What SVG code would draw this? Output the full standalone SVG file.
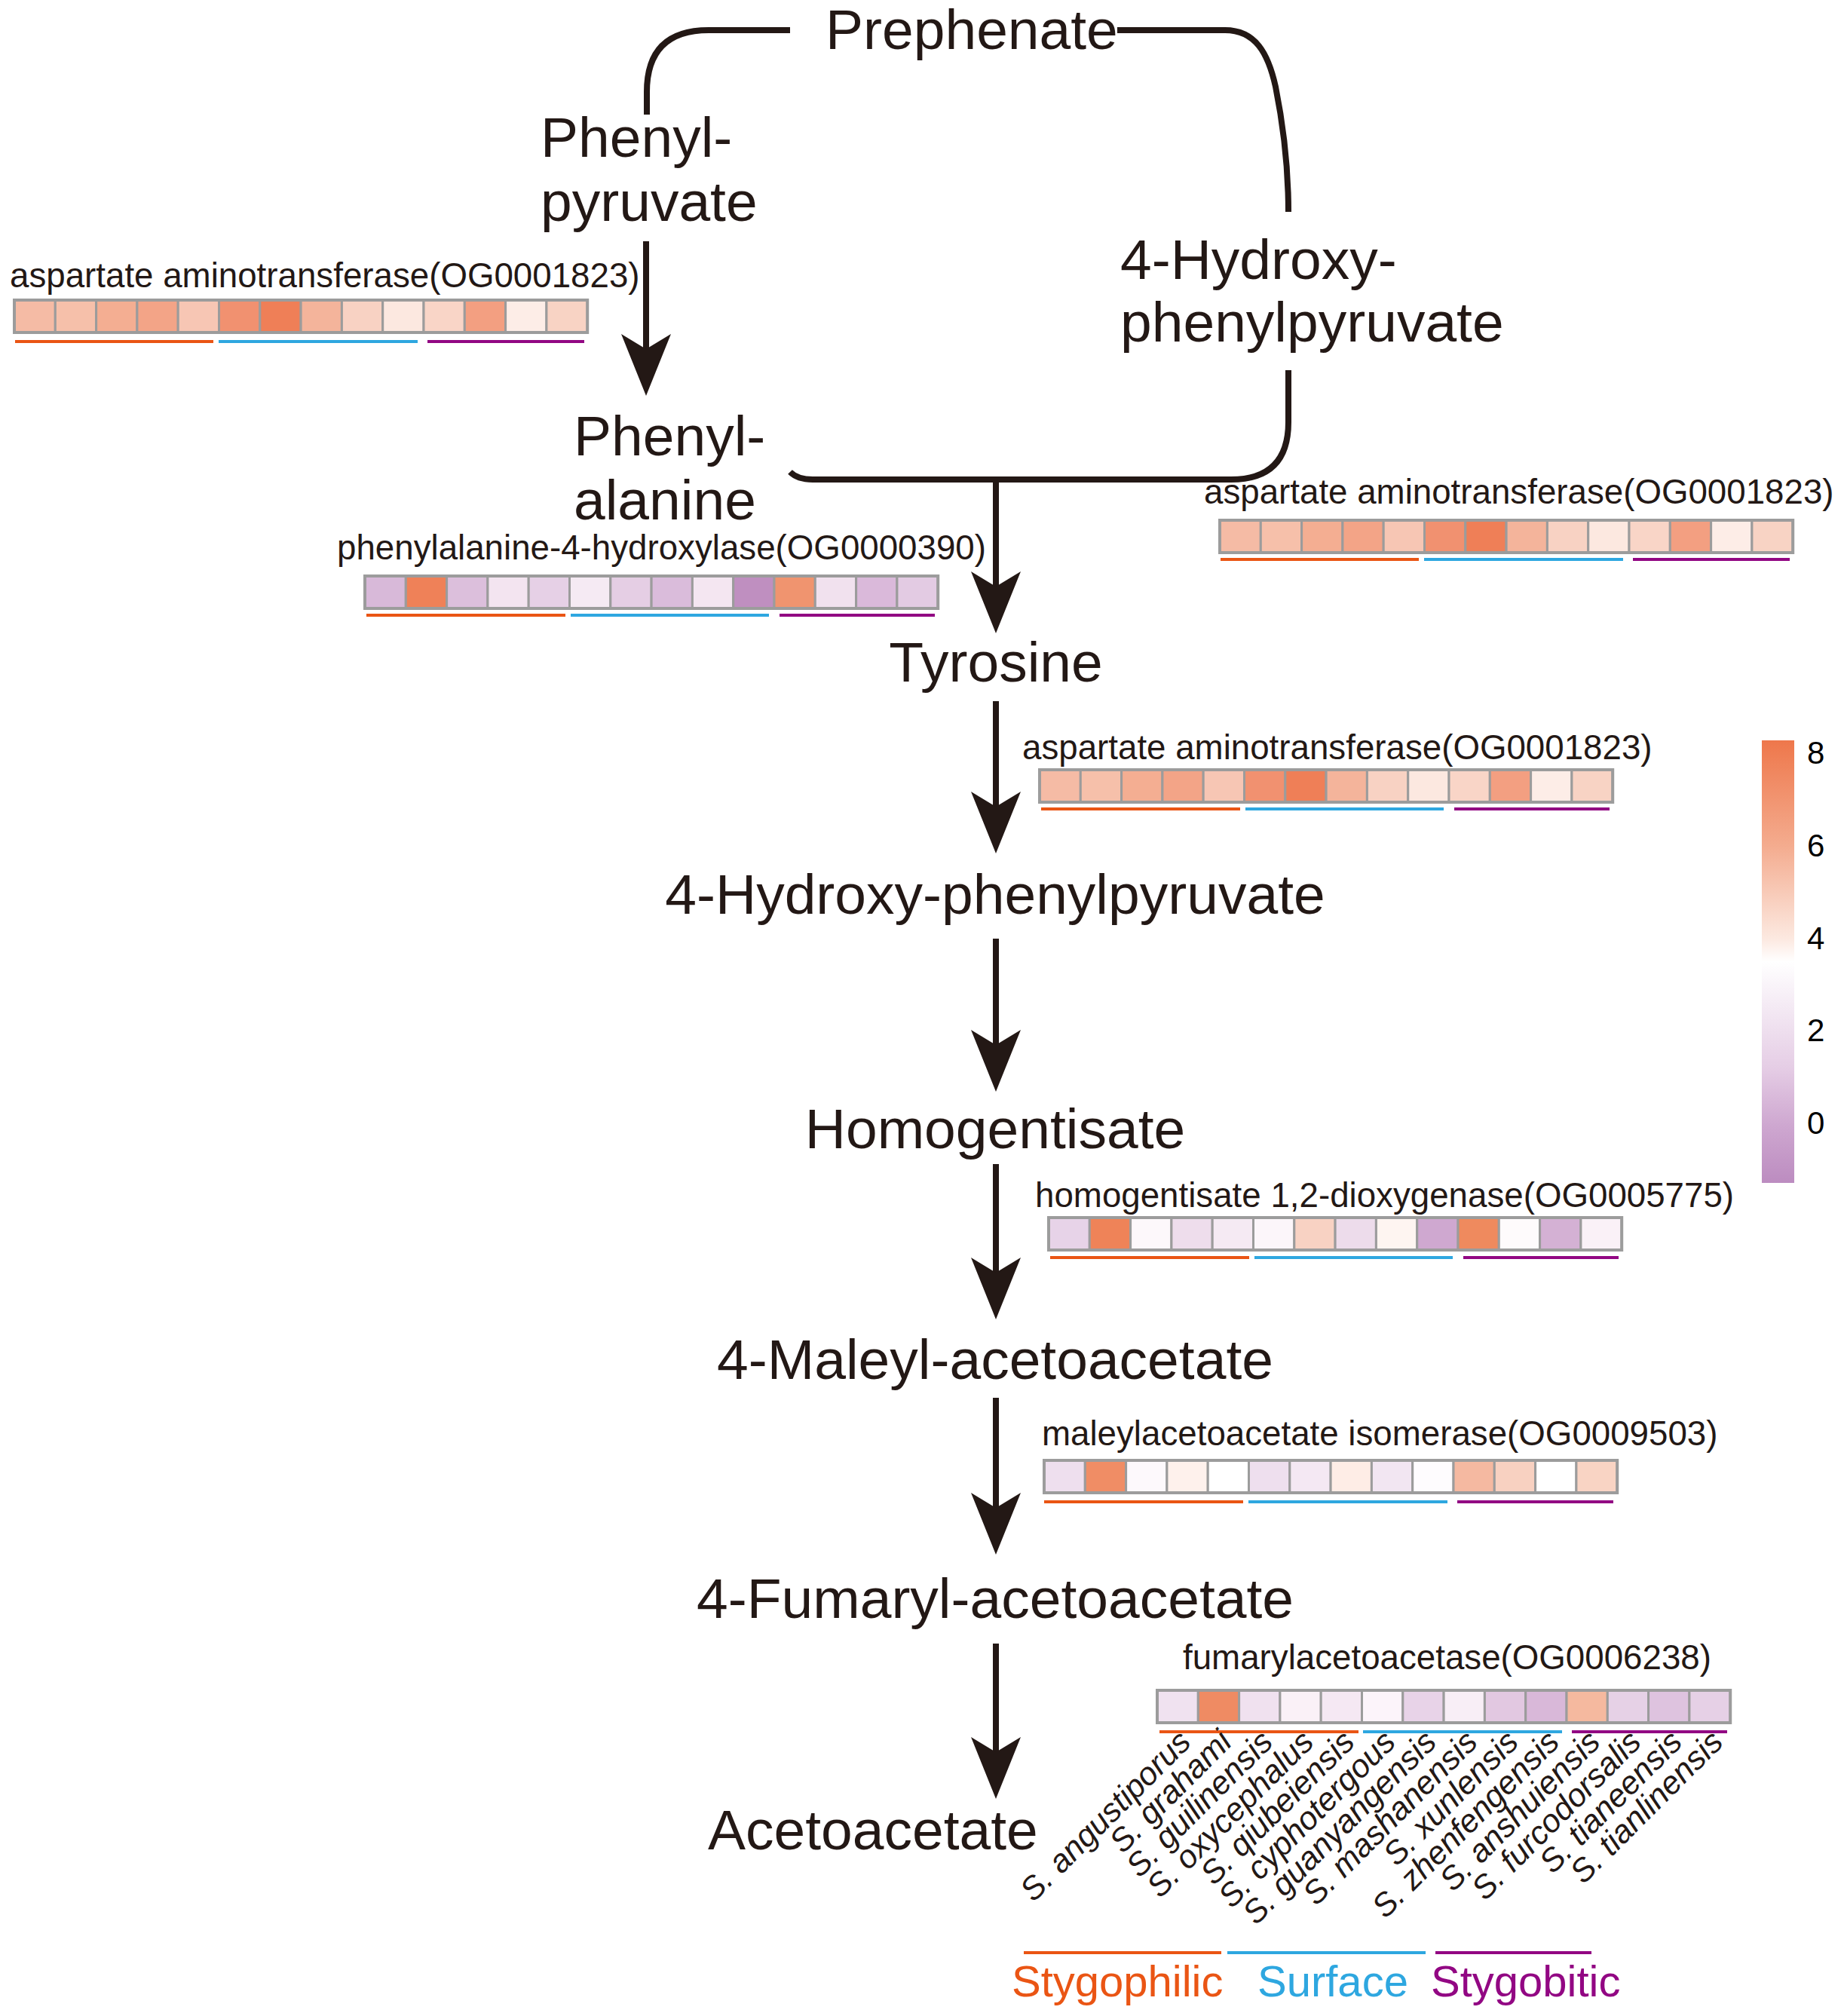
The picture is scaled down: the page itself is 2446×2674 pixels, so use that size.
<svg xmlns="http://www.w3.org/2000/svg" width="2446" height="2674" viewBox="0 0 2446 2674">
<style>
.t{font-family:"Liberation Sans",Arial,Helvetica,sans-serif;fill:#231815}
.big{font-size:75px}
.sm{font-size:45.7px}
.sp{font-size:43px;font-style:italic;text-anchor:end}
.mid{text-anchor:middle}
.cell{stroke:#9c9c9c;stroke-width:3}
.frame{fill:none;stroke:#9c9c9c;stroke-width:4}
.ln{fill:none;stroke:#231815;stroke-width:8}
.uo{stroke:#EA5514;stroke-width:4}
.ub{stroke:#2EA7E0;stroke-width:4}
.up{stroke:#920783;stroke-width:4}
.cb{font-family:"Liberation Sans",Arial,sans-serif;font-size:42px;fill:#000}
</style>
<defs>
<marker id="ah" markerUnits="userSpaceOnUse" viewBox="0 -34 83 68" markerWidth="83" markerHeight="68" refX="20" refY="0" orient="auto">
<path d="M0,-33 L82,0 L0,33 L20,0 Z" fill="#231815"/>
</marker>
<linearGradient id="cbg" x1="0" y1="0" x2="0" y2="1">
<stop offset="0" stop-color="#EE774B"/>
<stop offset="0.24" stop-color="#F4AC8F"/>
<stop offset="0.45" stop-color="#FCE9E1"/>
<stop offset="0.5" stop-color="#FFFFFF"/>
<stop offset="0.62" stop-color="#F2E6F2"/>
<stop offset="0.74" stop-color="#E5CDE5"/>
<stop offset="0.87" stop-color="#CEA7D0"/>
<stop offset="1" stop-color="#BC8CC0"/>
</linearGradient>
</defs>

<!-- connectors -->
<g id="connectors">
<path class="ln" d="M1048,40 H940 Q858,40 858,122 V152"/>
<path class="ln" d="M1482,40 H1625 C1665,40 1682,70 1692,115 C1704,175 1709,230 1709,281"/>
<path class="ln" d="M1709,491 V560 Q1709,636 1633,636 H1078 Q1058,636 1048,626"/>
<line class="ln" x1="857" y1="320" x2="857" y2="463" marker-end="url(#ah)"/>
<line class="ln" x1="1321" y1="636" x2="1321" y2="778" marker-end="url(#ah)"/>
<line class="ln" x1="1321" y1="930" x2="1321" y2="1070" marker-end="url(#ah)"/>
<line class="ln" x1="1321" y1="1245" x2="1321" y2="1386" marker-end="url(#ah)"/>
<line class="ln" x1="1321" y1="1544" x2="1321" y2="1688" marker-end="url(#ah)"/>
<line class="ln" x1="1321" y1="1854" x2="1321" y2="2000" marker-end="url(#ah)"/>
<line class="ln" x1="1321" y1="2180" x2="1321" y2="2324" marker-end="url(#ah)"/>
</g>

<!-- metabolites -->
<g id="prephenate"><text class="t big" x="1095" y="65">Prephenate</text></g>
<g id="phenylpyruvate"><text class="t big" x="717" y="208">Phenyl-</text><text class="t big" x="717" y="293">pyruvate</text></g>
<g id="hydroxyphenylpyruvate-top"><text class="t big" x="1486" y="370">4-Hydroxy-</text><text class="t big" x="1486" y="453">phenylpyruvate</text></g>
<g id="phenylalanine"><text class="t big" x="761" y="604">Phenyl-</text><text class="t big" x="761" y="689">alanine</text></g>
<g id="tyrosine"><text class="t big mid" x="1321" y="904">Tyrosine</text></g>
<g id="hydroxyphenylpyruvate"><text class="t big mid" x="1320" y="1212">4-Hydroxy-phenylpyruvate</text></g>
<g id="homogentisate"><text class="t big mid" x="1320" y="1523">Homogentisate</text></g>
<g id="maleylacetoacetate"><text class="t big mid" x="1320" y="1829">4-Maleyl-acetoacetate</text></g>
<g id="fumarylacetoacetate"><text class="t big mid" x="1320" y="2146">4-Fumaryl-acetoacetate</text></g>
<g id="acetoacetate"><text class="t big" x="939" y="2453">Acetoacetate</text></g>

<!-- heatmap 1 -->
<g id="hm-ast-1" transform="translate(19,398)">
<text class="t sm" x="-6" y="-17">aspartate aminotransferase(OG0001823)</text>
<rect class="cell" x="0" y="0" width="54.3" height="43" fill="#F5BBA5"/>
<rect class="cell" x="54.3" y="0" width="54.3" height="43" fill="#F6C0AA"/>
<rect class="cell" x="108.6" y="0" width="54.3" height="43" fill="#F4AE92"/>
<rect class="cell" x="162.9" y="0" width="54.3" height="43" fill="#F3A487"/>
<rect class="cell" x="217.2" y="0" width="54.3" height="43" fill="#F7C6B4"/>
<rect class="cell" x="271.5" y="0" width="54.3" height="43" fill="#F19170"/>
<rect class="cell" x="325.8" y="0" width="54.3" height="43" fill="#EF7F57"/>
<rect class="cell" x="380.1" y="0" width="54.3" height="43" fill="#F4B49B"/>
<rect class="cell" x="434.4" y="0" width="54.3" height="43" fill="#F8D2C3"/>
<rect class="cell" x="488.7" y="0" width="54.3" height="43" fill="#FCE8E0"/>
<rect class="cell" x="543" y="0" width="54.3" height="43" fill="#F9D5C7"/>
<rect class="cell" x="597.3" y="0" width="54.3" height="43" fill="#F39F81"/>
<rect class="cell" x="651.6" y="0" width="54.3" height="43" fill="#FDEDE7"/>
<rect class="cell" x="705.9" y="0" width="54.3" height="43" fill="#F8D3C4"/>
<rect class="frame" x="0" y="0" width="760.2" height="43"/>
<line class="uo" x1="1" y1="55" x2="264" y2="55"/>
<line class="ub" x1="271" y1="55" x2="535" y2="55"/>
<line class="up" x1="548" y1="55" x2="756" y2="55"/>
</g>

<!-- heatmap 2 -->
<g id="hm-ast-2" transform="translate(1618,690)">
<text class="t sm" x="-21" y="-22">aspartate aminotransferase(OG0001823)</text>
<rect class="cell" x="0" y="0" width="54.3" height="43" fill="#F5BBA5"/>
<rect class="cell" x="54.3" y="0" width="54.3" height="43" fill="#F6C0AA"/>
<rect class="cell" x="108.6" y="0" width="54.3" height="43" fill="#F4AE92"/>
<rect class="cell" x="162.9" y="0" width="54.3" height="43" fill="#F3A487"/>
<rect class="cell" x="217.2" y="0" width="54.3" height="43" fill="#F7C6B4"/>
<rect class="cell" x="271.5" y="0" width="54.3" height="43" fill="#F19170"/>
<rect class="cell" x="325.8" y="0" width="54.3" height="43" fill="#EF7F57"/>
<rect class="cell" x="380.1" y="0" width="54.3" height="43" fill="#F4B49B"/>
<rect class="cell" x="434.4" y="0" width="54.3" height="43" fill="#F8D2C3"/>
<rect class="cell" x="488.7" y="0" width="54.3" height="43" fill="#FCE8E0"/>
<rect class="cell" x="543" y="0" width="54.3" height="43" fill="#F9D5C7"/>
<rect class="cell" x="597.3" y="0" width="54.3" height="43" fill="#F39F81"/>
<rect class="cell" x="651.6" y="0" width="54.3" height="43" fill="#FDEDE7"/>
<rect class="cell" x="705.9" y="0" width="54.3" height="43" fill="#F8D3C4"/>
<rect class="frame" x="0" y="0" width="760.2" height="43"/>
<line class="uo" x1="1" y1="52" x2="264" y2="52"/>
<line class="ub" x1="271" y1="52" x2="535" y2="52"/>
<line class="up" x1="548" y1="52" x2="756" y2="52"/>
</g>

<!-- heatmap 3 -->
<g id="hm-pah" transform="translate(484,764)">
<text class="t sm" x="-37" y="-22">phenylalanine-4-hydroxylase(OG0000390)</text>
<rect class="cell" x="0" y="0" width="54.3" height="43" fill="#D8B9D9"/>
<rect class="cell" x="54.3" y="0" width="54.3" height="43" fill="#EF8158"/>
<rect class="cell" x="108.6" y="0" width="54.3" height="43" fill="#DCBFDC"/>
<rect class="cell" x="162.9" y="0" width="54.3" height="43" fill="#F3E4F0"/>
<rect class="cell" x="217.2" y="0" width="54.3" height="43" fill="#E6D0E6"/>
<rect class="cell" x="271.5" y="0" width="54.3" height="43" fill="#F5EAF3"/>
<rect class="cell" x="325.8" y="0" width="54.3" height="43" fill="#E5CEE4"/>
<rect class="cell" x="380.1" y="0" width="54.3" height="43" fill="#DABCDB"/>
<rect class="cell" x="434.4" y="0" width="54.3" height="43" fill="#F4E6F1"/>
<rect class="cell" x="488.7" y="0" width="54.3" height="43" fill="#BF8FC0"/>
<rect class="cell" x="543" y="0" width="54.3" height="43" fill="#F0946F"/>
<rect class="cell" x="597.3" y="0" width="54.3" height="43" fill="#F1E1EE"/>
<rect class="cell" x="651.6" y="0" width="54.3" height="43" fill="#DAB9DA"/>
<rect class="cell" x="705.9" y="0" width="54.3" height="43" fill="#E3CBE3"/>
<rect class="frame" x="0" y="0" width="760.2" height="43"/>
<line class="uo" x1="2" y1="52" x2="266" y2="52"/>
<line class="ub" x1="273" y1="52" x2="536" y2="52"/>
<line class="up" x1="550" y1="52" x2="756" y2="52"/>
</g>

<!-- heatmap 4 -->
<g id="hm-ast-3" transform="translate(1379,1021)">
<text class="t sm" x="-23" y="-14">aspartate aminotransferase(OG0001823)</text>
<rect class="cell" x="0" y="0" width="54.3" height="43" fill="#F5BBA5"/>
<rect class="cell" x="54.3" y="0" width="54.3" height="43" fill="#F6C0AA"/>
<rect class="cell" x="108.6" y="0" width="54.3" height="43" fill="#F4AE92"/>
<rect class="cell" x="162.9" y="0" width="54.3" height="43" fill="#F3A487"/>
<rect class="cell" x="217.2" y="0" width="54.3" height="43" fill="#F7C6B4"/>
<rect class="cell" x="271.5" y="0" width="54.3" height="43" fill="#F19170"/>
<rect class="cell" x="325.8" y="0" width="54.3" height="43" fill="#EF7F57"/>
<rect class="cell" x="380.1" y="0" width="54.3" height="43" fill="#F4B49B"/>
<rect class="cell" x="434.4" y="0" width="54.3" height="43" fill="#F8D2C3"/>
<rect class="cell" x="488.7" y="0" width="54.3" height="43" fill="#FCE8E0"/>
<rect class="cell" x="543" y="0" width="54.3" height="43" fill="#F9D5C7"/>
<rect class="cell" x="597.3" y="0" width="54.3" height="43" fill="#F39F81"/>
<rect class="cell" x="651.6" y="0" width="54.3" height="43" fill="#FDEDE7"/>
<rect class="cell" x="705.9" y="0" width="54.3" height="43" fill="#F8D3C4"/>
<rect class="frame" x="0" y="0" width="760.2" height="43"/>
<line class="uo" x1="2" y1="52" x2="266" y2="52"/>
<line class="ub" x1="273" y1="52" x2="536" y2="52"/>
<line class="up" x1="550" y1="52" x2="756" y2="52"/>
</g>

<!-- heatmap 5 -->
<g id="hm-hgd" transform="translate(1391,1615)">
<text class="t sm" x="-18" y="-14">homogentisate 1,2-dioxygenase(OG0005775)</text>
<rect class="cell" x="0" y="0" width="54.3" height="43" fill="#E7D3E8"/>
<rect class="cell" x="54.3" y="0" width="54.3" height="43" fill="#EF8358"/>
<rect class="cell" x="108.6" y="0" width="54.3" height="43" fill="#FDF8FB"/>
<rect class="cell" x="162.9" y="0" width="54.3" height="43" fill="#EEDDEC"/>
<rect class="cell" x="217.2" y="0" width="54.3" height="43" fill="#F5EAF3"/>
<rect class="cell" x="271.5" y="0" width="54.3" height="43" fill="#FCF6FA"/>
<rect class="cell" x="325.8" y="0" width="54.3" height="43" fill="#F8D2C3"/>
<rect class="cell" x="380.1" y="0" width="54.3" height="43" fill="#EDDCEB"/>
<rect class="cell" x="434.4" y="0" width="54.3" height="43" fill="#FEF5F1"/>
<rect class="cell" x="488.7" y="0" width="54.3" height="43" fill="#CFA8D0"/>
<rect class="cell" x="543" y="0" width="54.3" height="43" fill="#EF8A5E"/>
<rect class="cell" x="597.3" y="0" width="54.3" height="43" fill="#FEFBFC"/>
<rect class="cell" x="651.6" y="0" width="54.3" height="43" fill="#D4B1D4"/>
<rect class="cell" x="705.9" y="0" width="54.3" height="43" fill="#FAF1F7"/>
<rect class="frame" x="0" y="0" width="760.2" height="43"/>
<line class="uo" x1="2" y1="53" x2="266" y2="53"/>
<line class="ub" x1="273" y1="53" x2="536" y2="53"/>
<line class="up" x1="550" y1="53" x2="756" y2="53"/>
</g>

<!-- heatmap 6 -->
<g id="hm-mai" transform="translate(1385,1937)">
<text class="t sm" x="-3" y="-20">maleylacetoacetate isomerase(OG0009503)</text>
<rect class="cell" x="0" y="0" width="54.3" height="43" fill="#EEDFEE"/>
<rect class="cell" x="54.3" y="0" width="54.3" height="43" fill="#F08D65"/>
<rect class="cell" x="108.6" y="0" width="54.3" height="43" fill="#FDF9FC"/>
<rect class="cell" x="162.9" y="0" width="54.3" height="43" fill="#FEF1EC"/>
<rect class="cell" x="217.2" y="0" width="54.3" height="43" fill="#FFFFFF"/>
<rect class="cell" x="271.5" y="0" width="54.3" height="43" fill="#EEDFEE"/>
<rect class="cell" x="325.8" y="0" width="54.3" height="43" fill="#F4E8F3"/>
<rect class="cell" x="380.1" y="0" width="54.3" height="43" fill="#FEEDE6"/>
<rect class="cell" x="434.4" y="0" width="54.3" height="43" fill="#F2E6F2"/>
<rect class="cell" x="488.7" y="0" width="54.3" height="43" fill="#FEFCFE"/>
<rect class="cell" x="543" y="0" width="54.3" height="43" fill="#F5B9A1"/>
<rect class="cell" x="597.3" y="0" width="54.3" height="43" fill="#F8D1C1"/>
<rect class="cell" x="651.6" y="0" width="54.3" height="43" fill="#FFFFFF"/>
<rect class="cell" x="705.9" y="0" width="54.3" height="43" fill="#F9D4C4"/>
<rect class="frame" x="0" y="0" width="760.2" height="43"/>
<line class="uo" x1="0" y1="55" x2="264" y2="55"/>
<line class="ub" x1="271" y1="55" x2="535" y2="55"/>
<line class="up" x1="548" y1="55" x2="755" y2="55"/>
</g>

<!-- heatmap 7 -->
<g id="hm-fah" transform="translate(1535,2242)">
<text class="t sm" x="34" y="-28">fumarylacetoacetase(OG0006238)</text>
<rect class="cell" x="0" y="0" width="54.3" height="43" fill="#F0E2F0"/>
<rect class="cell" x="54.3" y="0" width="54.3" height="43" fill="#EF8B63"/>
<rect class="cell" x="108.6" y="0" width="54.3" height="43" fill="#F0E1EF"/>
<rect class="cell" x="162.9" y="0" width="54.3" height="43" fill="#FAF1F7"/>
<rect class="cell" x="217.2" y="0" width="54.3" height="43" fill="#F5E8F3"/>
<rect class="cell" x="271.5" y="0" width="54.3" height="43" fill="#FCF4FA"/>
<rect class="cell" x="325.8" y="0" width="54.3" height="43" fill="#E8D3E8"/>
<rect class="cell" x="380.1" y="0" width="54.3" height="43" fill="#F8EEF6"/>
<rect class="cell" x="434.4" y="0" width="54.3" height="43" fill="#E2C8E1"/>
<rect class="cell" x="488.7" y="0" width="54.3" height="43" fill="#D9B8D9"/>
<rect class="cell" x="543" y="0" width="54.3" height="43" fill="#F5B99F"/>
<rect class="cell" x="597.3" y="0" width="54.3" height="43" fill="#E6D1E6"/>
<rect class="cell" x="651.6" y="0" width="54.3" height="43" fill="#DEC3DF"/>
<rect class="cell" x="705.9" y="0" width="54.3" height="43" fill="#E6D0E6"/>
<rect class="frame" x="0" y="0" width="760.2" height="43"/>
<line class="uo" x1="3" y1="55" x2="267" y2="55"/>
<line class="ub" x1="273" y1="55" x2="537" y2="55"/>
<line class="up" x1="550" y1="55" x2="756" y2="55"/>
<g class="t">
<text class="sp" transform="translate(47,71) rotate(-45)">S. angustiporus</text>
<text class="sp" transform="translate(101.3,71) rotate(-45)">S. grahami</text>
<text class="sp" transform="translate(155.6,71) rotate(-45)">S. guilinensis</text>
<text class="sp" transform="translate(209.9,71) rotate(-45)">S. oxycephalus</text>
<text class="sp" transform="translate(264.2,71) rotate(-45)">S. qiubeiensis</text>
<text class="sp" transform="translate(318.5,71) rotate(-45)">S. cyphotergous</text>
<text class="sp" transform="translate(372.8,71) rotate(-45)">S. guanyangensis</text>
<text class="sp" transform="translate(427.1,71) rotate(-45)">S. mashanensis</text>
<text class="sp" transform="translate(481.4,71) rotate(-45)">S. xunlensis</text>
<text class="sp" transform="translate(535.7,71) rotate(-45)">S. zhenfengensis</text>
<text class="sp" transform="translate(590,71) rotate(-45)">S. anshuiensis</text>
<text class="sp" transform="translate(644.3,71) rotate(-45)">S. furcodorsalis</text>
<text class="sp" transform="translate(698.6,71) rotate(-45)">S. tianeensis</text>
<text class="sp" transform="translate(752.9,71) rotate(-45)">S. tianlinensis</text>
</g>
</g>

<!-- colour scale -->
<g id="colorbar">
<rect x="2337" y="982" width="43" height="587" fill="url(#cbg)"/>
<text class="cb" x="2397" y="1013">8</text>
<text class="cb" x="2397" y="1136">6</text>
<text class="cb" x="2397" y="1259">4</text>
<text class="cb" x="2397" y="1381">2</text>
<text class="cb" x="2397" y="1504">0</text>
</g>

<!-- group legend -->
<g id="legend">
<line class="uo" x1="1358" y1="2590" x2="1620" y2="2590" stroke-width="5"/>
<line class="ub" x1="1628" y1="2590" x2="1891" y2="2590" stroke-width="5"/>
<line class="up" x1="1904" y1="2590" x2="2111" y2="2590" stroke-width="5"/>
<text x="1342" y="2648" font-family="Liberation Sans, Arial, sans-serif" font-size="58" fill="#EA5514">Stygophilic</text>
<text x="1668" y="2648" font-family="Liberation Sans, Arial, sans-serif" font-size="58" fill="#2EA7E0">Surface</text>
<text x="1898" y="2648" font-family="Liberation Sans, Arial, sans-serif" font-size="58" fill="#920783">Stygobitic</text>
</g>
</svg>
